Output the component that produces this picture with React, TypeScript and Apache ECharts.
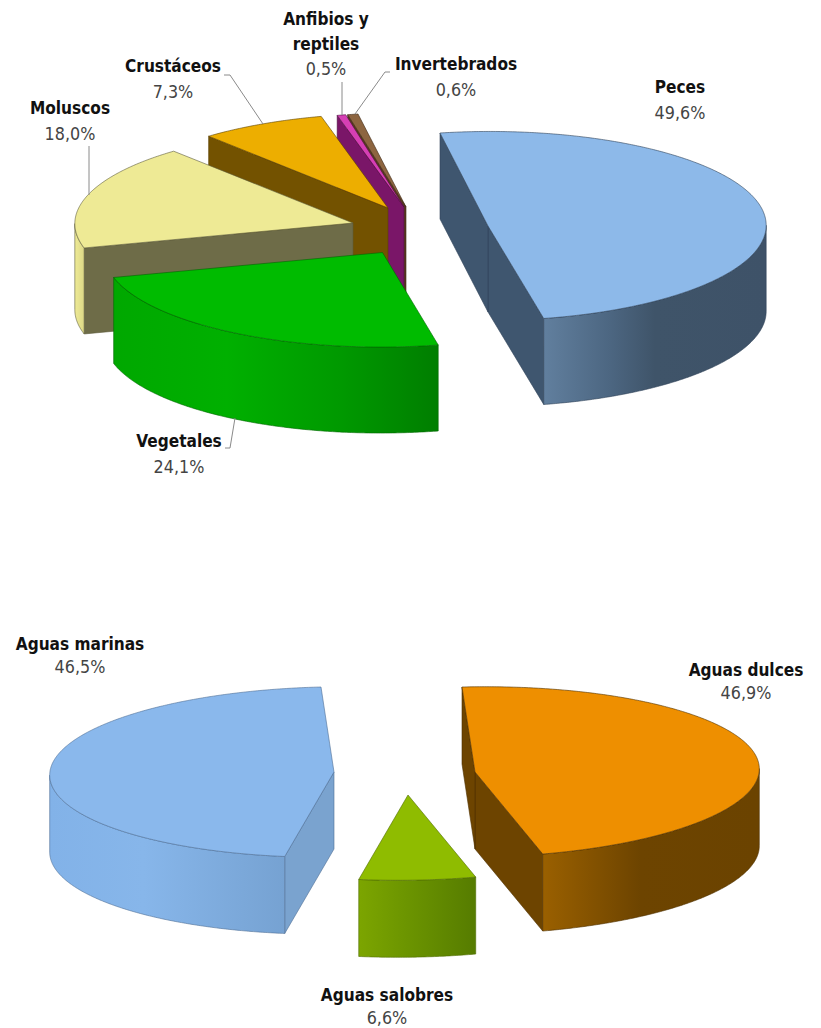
import React, { useEffect, useRef } from "react";
import * as echarts from "echarts";

// Origen de las especies: share of each group, in clockwise order.
const speciesNames = ["Peces", "Vegetales", "Moluscos", "Crustáceos", "Anfibios y\nreptiles", "Invertebrados"];
const speciesValues = [49.6, 24.1, 18.0, 7.3, 0.5, 0.6];

// Tipo de agua: share of each environment, in clockwise order.
const waterNames = ["Aguas dulces", "Aguas salobres", "Aguas marinas"];
const waterValues = [46.9, 6.6, 46.5];

const FONT = "'DejaVu Sans', Verdana, sans-serif";
const NAME_COLOR = "#111111";
const PCT_COLOR = "#444444";
const LEADER_COLOR = "#8a8a8a";

type Pt = [number, number];
type Stop = [number, string];
type SliceStyle = {
  apex: Pt; // tip of the exploded wedge
  top: string;
  radial: string;
  rim: Stop[];
  edge: string;
  label: Pt;
  nameGap?: number;
  leader?: Pt[];
};
type PieLayout = {
  names: string[];
  values: number[];
  paintOrder: number[];
  axisA: Pt; // screen vector of the radius at angle 0
  axisB: Pt; // screen vector of the radius at angle 90
  depth: number;
  lineGap: number;
  slices: SliceStyle[];
};

const speciesPie: PieLayout = {
  names: speciesNames,
  values: speciesValues,
  paintOrder: [5, 4, 3, 2, 1, 0],
  axisA: [-48, -93],
  axisB: [274, -17],
  depth: 86,
  lineGap: 26,
  slices: [
    {
      apex: [488, 226], top: "#8db9e9", radial: "#3f566f", edge: "#2f4258",
      rim: [[0, "#617f9e"], [0.3, "#4c6681"], [0.5, "#3f5469"], [1, "#3e5268"]],
      label: [680, 87],
    },
    {
      apex: [382.5, 252.5], top: "#00bb00", radial: "#008800", edge: "#006600",
      rim: [[0, "#00a800"], [0.35, "#00b000"], [0.7, "#009900"], [1, "#007e00"]],
      label: [179, 441],
      leader: [[225, 448], [230, 448], [235, 418]],
    },
    {
      apex: [353, 223], top: "#eeea95", radial: "#6e6c48", edge: "#5c5a3a",
      rim: [[0, "#eeea95"], [1, "#dcd887"]],
      label: [70, 108],
      leader: [[89, 146], [89, 195]],
    },
    {
      apex: [388, 208], top: "#edae00", radial: "#735200", edge: "#5a4000",
      rim: [[0, "#8a6200"], [1, "#735200"]],
      label: [173, 66],
      leader: [[224, 75], [230, 75], [263, 124]],
    },
    {
      apex: [404, 207], top: "#d63fb4", radial: "#7a1668", edge: "#4d0d42",
      rim: [[0, "#a02088"], [1, "#7a1668"]],
      label: [326, 19],
      nameGap: 25,
      leader: [[342, 82], [342, 115]],
    },
    {
      apex: [406, 207], top: "#8d6540", radial: "#5a3a20", edge: "#3a2510",
      rim: [[0, "#8d6540"], [1, "#5a3a20"]],
      label: [456, 64],
      leader: [[390, 72], [385, 72], [355, 114]],
    },
  ],
};

const waterPie: PieLayout = {
  names: waterNames,
  values: waterValues,
  paintOrder: [2, 0, 1],
  axisA: [-13, -85],
  axisB: [284, -7],
  depth: 77,
  lineGap: 23,
  slices: [
    {
      apex: [475, 772], top: "#ee8f00", radial: "#6d4400", edge: "#4f3100",
      rim: [[0, "#9a6000"], [0.45, "#6d4400"], [1, "#6b4300"]],
      label: [746, 670],
    },
    {
      apex: [408, 795], top: "#8fbc00", radial: "#6a9000", edge: "#4f6c00",
      rim: [[0, "#7ca500"], [0.4, "#6c9500"], [1, "#567c00"]],
      label: [387, 995],
    },
    {
      apex: [334, 772], top: "#8ab8ec", radial: "#7aa3cf", edge: "#4f6f95",
      rim: [[0, "#82b2e8"], [0.4, "#87b6ea"], [1, "#76a2d2"]],
      label: [80, 644],
    },
  ],
};

function rimPoint(p: PieLayout, apex: Pt, deg: number, drop = 0): Pt {
  const t = (deg * Math.PI) / 180;
  return [
    apex[0] + p.axisA[0] * Math.cos(t) + p.axisB[0] * Math.sin(t),
    apex[1] + p.axisA[1] * Math.cos(t) + p.axisB[1] * Math.sin(t) + drop,
  ];
}

function wedgeChildren(p: PieLayout, index: number, rank: number) {
  const total = p.values.reduce((a, b) => a + b, 0);
  const before = p.values.slice(0, index).reduce((a, b) => a + b, 0);
  const start = (before / total) * 360;
  const end = ((before + p.values[index]) / total) * 360;
  const s = p.slices[index];
  const z2 = rank * 10;
  const children: any[] = [];

  const angles: number[] = [];
  const steps = Math.max(2, Math.ceil((end - start) / 0.5));
  for (let k = 0; k <= steps; k++) angles.push(start + ((end - start) * k) / steps);

  const wall = (pts: Pt[], fill: any) =>
    children.push({
      type: "polygon",
      shape: { points: [...pts, ...pts.slice().reverse().map((q): Pt => [q[0], q[1] + p.depth])] },
      style: { fill, stroke: s.edge, lineWidth: 0.6 },
      z2,
    });

  // Radial faces turn towards the viewer when the clockwise outline runs leftwards.
  const first = rimPoint(p, s.apex, start);
  const last = rimPoint(p, s.apex, end);
  if (last[0] > s.apex[0]) wall([last, s.apex], s.radial);
  if (first[0] < s.apex[0]) wall([s.apex, first], s.radial);

  // The curved rim shows only on its leftward-running stretches.
  let run: Pt[] = [];
  const rimFill = new echarts.graphic.LinearGradient(
    0, 0, 1, 0,
    s.rim.map(([offset, color]) => ({ offset, color })),
  );
  const flush = () => {
    if (run.length > 1) wall(run, rimFill);
    run = [];
  };
  for (let k = 0; k < angles.length - 1; k++) {
    const a = rimPoint(p, s.apex, angles[k]);
    const b = rimPoint(p, s.apex, angles[k + 1]);
    if (b[0] < a[0]) {
      if (!run.length) run.push(a);
      run.push(b);
    } else flush();
  }
  flush();

  children.push({
    type: "polygon",
    shape: { points: [s.apex, ...angles.map((d) => rimPoint(p, s.apex, d))] },
    style: { fill: s.top, stroke: s.edge, lineWidth: 0.6, lineJoin: "round" },
    z2: z2 + 1,
  });

  if (s.leader) {
    children.push({
      type: "polyline",
      shape: { points: s.leader },
      style: { fill: "none", stroke: LEADER_COLOR, lineWidth: 1 },
      z2: 200,
    });
  }

  const lines = p.names[index].split("\n");
  const gap = s.nameGap ?? p.lineGap;
  lines.forEach((line, n) => {
    children.push({
      type: "text",
      x: s.label[0],
      y: s.label[1] + n * gap,
      scaleY: 1.1,
      style: {
        text: line,
        font: `bold 15.4px ${FONT}`,
        fill: NAME_COLOR,
        textAlign: "center",
        textVerticalAlign: "middle",
      },
      z2: 210,
    });
  });
  children.push({
    type: "text",
    x: s.label[0],
    y: s.label[1] + lines.length * gap,
    scaleY: 1.1,
    style: {
      text: `${p.values[index].toFixed(1).replace(".", ",")}%`,
      font: `16px ${FONT}`,
      fill: PCT_COLOR,
      textAlign: "center",
      textVerticalAlign: "middle",
    },
    z2: 210,
  });
  return children;
}

function pieSeries(p: PieLayout) {
  return {
    type: "custom",
    coordinateSystem: "none",
    silent: true,
    data: p.paintOrder.map((i) => [i, p.values[i]]),
    renderItem: (params: any, api: any) => ({
      type: "group",
      children: wedgeChildren(p, api.value(0), params.dataIndex),
    }),
  };
}

export default function App() {
  const ref = useRef<HTMLDivElement>(null);
  useEffect(() => {
    const chart = echarts.init(ref.current!, undefined, { renderer: "svg" });
    chart.setOption({
      animation: false,
      backgroundColor: "#ffffff",
      series: [pieSeries(speciesPie), pieSeries(waterPie)],
    });
    return () => chart.dispose();
  }, []);
  return (
    <div
      ref={ref}
      style={{ position: "fixed", left: 0, top: 0, width: 821, height: 1028 }}
    />
  );
}
